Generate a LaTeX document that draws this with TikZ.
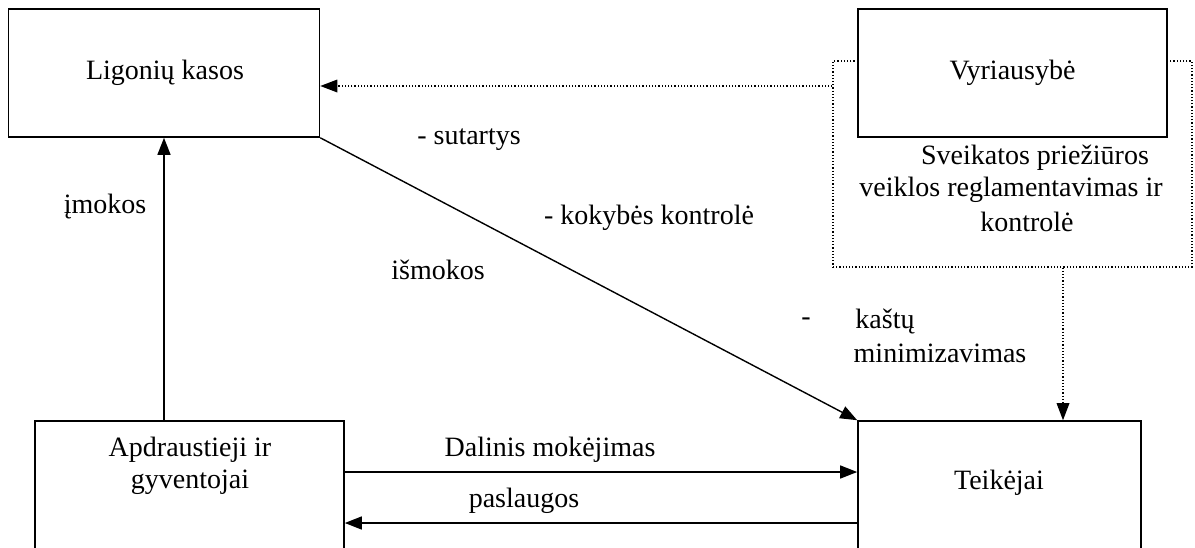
\documentclass[tikz,border=0pt]{standalone}
\usepackage{fontspec}
\setmainfont{Liberation Serif}
\usetikzlibrary{arrows.meta}
\begin{document}
\begin{tikzpicture}[x=1pt,y=-1pt,
  box/.style={draw, line width=1.6pt, rectangle, inner sep=0pt, fill=white},
  lbl/.style={font=\fontsize{28}{32}\selectfont, inner sep=0pt, align=center},
  arr/.style={line width=1.4pt, -{Triangle[length=17pt,width=13pt]}},
  darr/.style={line width=1.2pt, dotted, -{Triangle[length=17pt,width=13pt,line width=0pt]}}]
\useasboundingbox (0,0) rectangle (1195,547);
% dotted regulation box
\node[draw, dotted, line width=1.2pt, minimum width=359pt, minimum height=206pt, inner sep=0pt] (reg) at (1012.5,164) {};
\node[box, minimum width=311pt, minimum height=128pt] (lk) at (164,73) {};
\node[lbl] (lkt) at (165,73) {Ligonių kasos};
\node[box, minimum width=309pt, minimum height=128pt] (vy) at (1012.5,73) {};
\node[lbl] (vyt) at (1012.5,73) {Vyriausybė};
\node[box, minimum width=283pt, minimum height=200pt] (te) at (999.5,521) {};
\node[lbl] (tet) at (999,483) {Teikėjai};
\node[box, minimum width=309pt, minimum height=200pt] (ap) at (189.5,521) {};
\node[lbl] (apt) at (190,466) {Apdraustieji ir\\gyventojai};
% regulation text
\node[lbl] (rt1) at (1035,158) {Sveikatos priežiūros};
\node[lbl] (rt2) at (1011,190) {veiklos reglamentavimas ir};
\node[lbl] (rt3) at (1027,222) {kontrolė};
% labels
\node[lbl] (l1) at (469,140) {- sutartys};
\node[lbl] (l2) at (649,218) {- kokybės kontrolė};
\node[lbl] (l3) at (438,270) {išmokos};
\node[lbl] (l4a) at (806,322) {-};
\node[lbl] (l4b) at (885,322) {kaštų};
\node[lbl] (l4c) at (940,353) {minimizavimas};
\node[lbl] (l5) at (105,207) {įmokos};
\node[lbl] (l6) at (550,450) {Dalinis mokėjimas};
\node[lbl] (l7) at (524,501) {paslaugos};
% connectors
\coordinate (dy) at (0,86);
\coordinate (dx) at (1063,0);
\coordinate (y1) at (0,472);
\coordinate (y2) at (0,523);
\draw[darr] (reg.west |- dy) -- (lk.east |- dy);
\draw[darr] (reg.south -| dx) -- (te.north -| dx);
\draw[arr] (ap.north -| lk.south) -- (lk.south);
\draw[arr] (lk.south east) -- (te.north west);
\draw[arr] (ap.east |- y1) -- (te.west |- y1);
\draw[arr] (te.west |- y2) -- (ap.east |- y2);
\end{tikzpicture}
\end{document}
